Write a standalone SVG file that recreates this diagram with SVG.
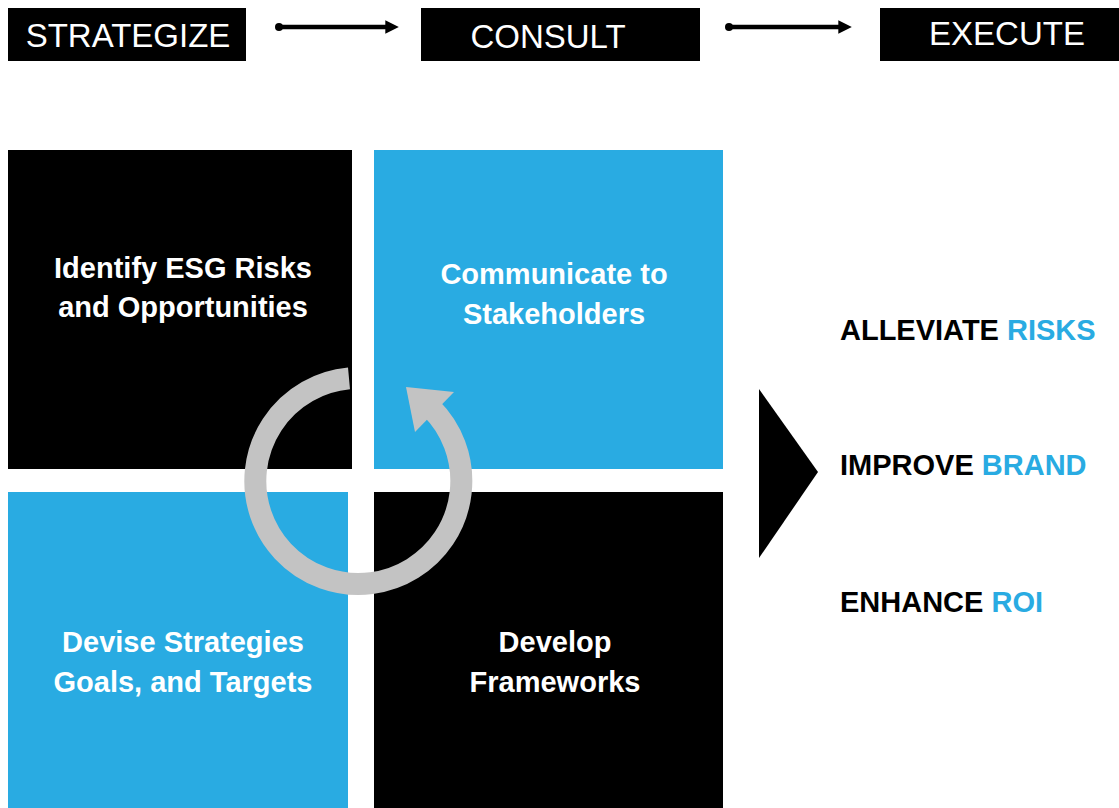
<svg xmlns="http://www.w3.org/2000/svg" width="1119" height="808" viewBox="0 0 1119 808">
<defs>
<style>
.hdr{fill:#000}
.hdrt{fill:#fff;font-family:"Liberation Sans",Arial,sans-serif;font-size:33px;text-anchor:middle}
.blk{fill:#000}
.blu{fill:#29abe2}
.sq{fill:#fff;font-family:"Liberation Sans",Arial,sans-serif;font-size:29px;font-weight:bold;text-anchor:middle}
.out{font-family:"Liberation Sans",Arial,sans-serif;font-size:29px;font-weight:bold;fill:#000}
.hl{fill:#29abe2}
.conn{stroke:#000;stroke-width:4.5;fill:none}
</style>
<marker id="ah" viewBox="0 0 10 10" refX="2" refY="5" markerWidth="3.2" markerHeight="3" orient="auto" markerUnits="strokeWidth">
<path d="M0,0 L10,5 L0,10 Z" fill="#000"/>
</marker>
</defs>
<rect width="1119" height="808" fill="#fff"/>

<g id="strategize">
<rect class="hdr" x="8" y="8" width="238" height="53"/>
<text class="hdrt" x="128" y="47">STRATEGIZE</text>
</g>
<g id="consult">
<rect class="hdr" x="421" y="8" width="279" height="53"/>
<text class="hdrt" x="548" y="48">CONSULT</text>
</g>
<g id="execute">
<rect class="hdr" x="880" y="8" width="239" height="53"/>
<text class="hdrt" x="1007" y="45">EXECUTE</text>
</g>

<g id="connectors">
<circle cx="279" cy="27" r="4" fill="#000"/>
<line class="conn" x1="279" y1="27" x2="388" y2="27" marker-end="url(#ah)"/>
<circle cx="729" cy="27" r="4" fill="#000"/>
<line class="conn" x1="729" y1="27" x2="841" y2="27" marker-end="url(#ah)"/>
</g>

<g id="identify">
<rect class="blk" x="8" y="150" width="344" height="319"/>
<text class="sq" x="183" y="278">Identify ESG Risks</text>
<text class="sq" x="183" y="317">and Opportunities</text>
</g>
<g id="communicate">
<rect class="blu" x="374" y="150" width="349" height="319"/>
<text class="sq" x="554" y="284">Communicate to</text>
<text class="sq" x="554" y="324">Stakeholders</text>
</g>
<g id="devise">
<rect class="blu" x="8" y="492" width="340" height="316"/>
<text class="sq" x="183" y="652">Devise Strategies</text>
<text class="sq" x="183" y="692">Goals, and Targets</text>
</g>
<g id="develop">
<rect class="blk" x="374" y="492" width="349" height="316"/>
<text class="sq" x="555" y="652">Develop</text>
<text class="sq" x="555" y="692">Frameworks</text>
</g>

<g id="cycle">
<path d="M349,378.4 A103,103 0 1 0 431,408" fill="none" stroke="#c3c3c3" stroke-width="22"/>
<polygon points="406,387 454,392 415,432" fill="#c3c3c3"/>
</g>

<g id="pointer">
<polygon points="759,389 818,472 759,558" fill="#000"/>
</g>

<g id="outcomes">
<text class="out" x="840" y="340">ALLEVIATE <tspan class="hl">RISKS</tspan></text>
<text class="out" x="840" y="475">IMPROVE <tspan class="hl">BRAND</tspan></text>
<text class="out" x="840" y="612">ENHANCE <tspan class="hl">ROI</tspan></text>
</g>
</svg>
